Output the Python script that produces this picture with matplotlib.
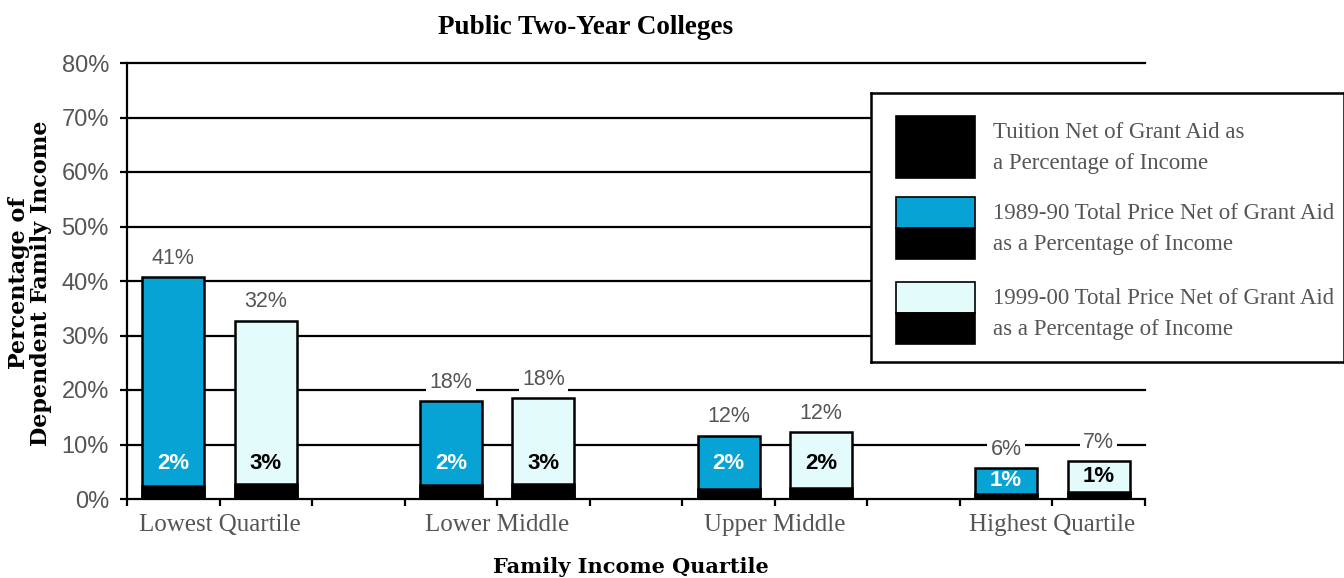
import matplotlib
matplotlib.use("Agg")
import matplotlib.pyplot as plt
from matplotlib.patches import Rectangle

# data
quartiles = ["Lowest Quartile", "Lower Middle", "Upper Middle", "Highest Quartile"]
total_8990 = [40.7, 17.9, 11.6, 5.7]
total_9900 = [32.7, 18.5, 12.3, 7.0]
tuition_8990 = [2.4, 2.5, 1.8, 1.0]
tuition_9900 = [2.8, 2.8, 2.1, 1.2]
top_labels_8990 = ["41%", "18%", "12%", "6%"]
top_labels_9900 = ["32%", "18%", "12%", "7%"]
in_labels_8990 = ["2%", "2%", "2%", "1%"]
in_labels_9900 = ["3%", "3%", "2%", "1%"]
yticks = [0, 10, 20, 30, 40, 50, 60, 70, 80]

BLUE = "#06a3d4"
LIGHT = "#e4fbfb"
GRAY = "#555555"
legend_items = [
    ("Tuition Net of Grant Aid as\na Percentage of Income", "black"),
    ("1989-90 Total Price Net of Grant Aid\nas a Percentage of Income", BLUE),
    ("1999-00 Total Price Net of Grant Aid\nas a Percentage of Income", LIGHT),
]

fig = plt.figure(figsize=(13.44, 5.78), dpi=100)
ax = fig.add_axes([127 / 1344, 1 - 499 / 578, 1018 / 1344, 436 / 578])

centers = [1 + 3 * i for i in range(len(quartiles))]
w = 0.67
x1 = [c - 0.5 for c in centers]
x2 = [c + 0.5 for c in centers]

for y in yticks[1:]:
    ax.axhline(y, color="black", lw=1.6, zorder=1, clip_on=False)

for xs, tot, tui, col in [(x1, total_8990, tuition_8990, BLUE), (x2, total_9900, tuition_9900, LIGHT)]:
    ax.bar(xs, tot, width=w, color=col, edgecolor="black", linewidth=1.8, zorder=3)
    ax.bar(xs, tui, width=w, color="black", edgecolor="black", linewidth=1.8, zorder=4)

for xs, tot, tui, tops, ins, tc in [
    (x1, total_8990, tuition_8990, top_labels_8990, in_labels_8990, "white"),
    (x2, total_9900, tuition_9900, top_labels_9900, in_labels_9900, "black"),
]:
    for x, t, b, tl, il in zip(xs, tot, tui, tops, ins):
        ax.annotate(tl, (x, t), xytext=(0, 6), textcoords="offset points",
                    ha="center", va="bottom", fontsize=15.5, color=GRAY,
                    family="Liberation Sans", zorder=5,
                    bbox=dict(boxstyle="square,pad=0.15", fc="white", ec="none"))
        ax.text(x, min(6.6, (t + b) / 2), il, ha="center", va="center",
                fontsize=16, fontweight="bold", color=tc,
                family="Liberation Sans", zorder=5)

ax.set_xlim(0, 11)
ax.set_ylim(0, 80)
ax.set_yticks(yticks)
ax.set_yticklabels([f"{v}%" for v in yticks], fontsize=17, color=GRAY, family="Liberation Sans")
ax.set_xticks(centers)
ax.set_xticklabels(quartiles, fontsize=18, color=GRAY, family="Liberation Serif")
ax.set_xticks(range(0, 12), minor=True)
ax.tick_params(axis="both", which="both", length=5, width=1.6, direction="out", color="black")
ax.tick_params(axis="x", pad=6)
ax.tick_params(axis="y", pad=8)
for s in ["top", "right"]:
    ax.spines[s].set_visible(False)
ax.spines["left"].set_linewidth(1.6)
ax.spines["bottom"].set_linewidth(1.6)

fig.text(586 / 1344, 1 - 28 / 578, "Public Two-Year Colleges", ha="center", va="center",
         fontsize=19.5, fontweight="bold", family="Liberation Serif")
fig.text(631 / 1344, 1 - 567 / 578, "Family Income Quartile", ha="center", va="center",
         fontsize=15, fontweight="bold", family="DejaVu Serif")
fig.text(30 / 1344, 1 - 283 / 578, "Percentage of\nDependent Family Income", ha="center",
         va="center", rotation=90, fontsize=16, fontweight="bold", family="DejaVu Serif",
         linespacing=0.95)

# legend box
lg = fig.add_axes([871 / 1344, 1 - 362 / 578, 473 / 1344, 269 / 578], zorder=10)
lg.set_xlim(0, 473)
lg.set_ylim(269, 0)
lg.set_xticks([])
lg.set_yticks([])
lg.set_facecolor("white")
for s in lg.spines.values():
    s.set_linewidth(1.8)
rows = [23, 104, 189]
for (label, col), top in zip(legend_items, rows):
    if col == "black":
        lg.add_patch(Rectangle((25, top), 79, 62, fc="black", ec="black", lw=1.2))
    else:
        lg.add_patch(Rectangle((25, top), 79, 31, fc=col, ec="black", lw=1.2))
        lg.add_patch(Rectangle((25, top + 31), 79, 31, fc="black", ec="black", lw=1.2))
    lg.text(122, top + 32, label, ha="left", va="center", fontsize=16.5, color=GRAY,
            family="Liberation Serif", linespacing=1.65)

fig.savefig("out.png", dpi=100)
